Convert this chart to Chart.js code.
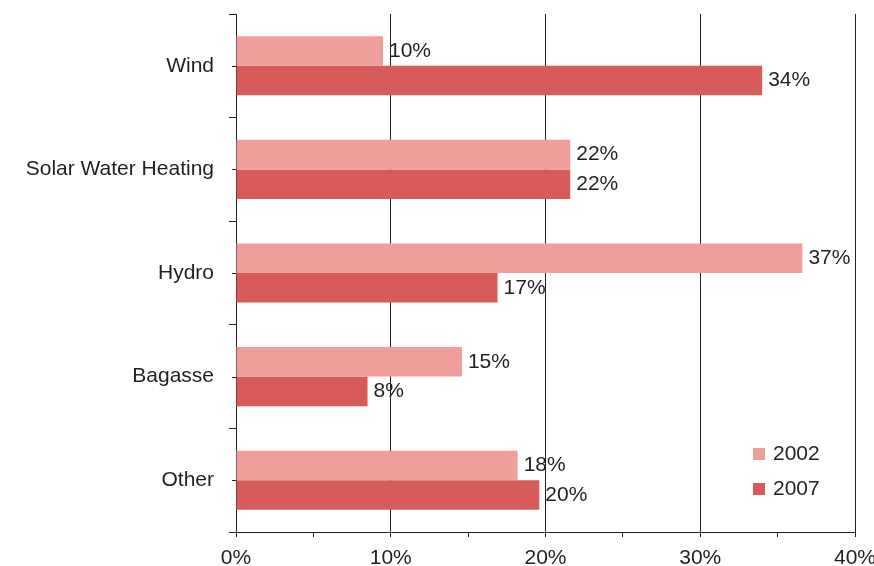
<!DOCTYPE html>
<html>
<head>
<meta charset="utf-8">
<script src="https://cdn.jsdelivr.net/npm/chart.js@4/dist/chart.umd.min.js"></script>
<style>
html,body{margin:0;padding:0;background:#fff;}
#wrap{width:874px;height:566px;position:relative;}
</style>
</head>
<body>
<div id="wrap"><canvas id="c" width="874" height="566"></canvas></div>
<script>
const categories = ["Wind", "Solar Water Heating", "Hydro", "Bagasse", "Other"];
const seriesNames = ["2002", "2007"];
const values2002 = [9.5, 21.6, 36.6, 14.6, 18.2];
const values2007 = [34.0, 21.6, 16.9, 8.5, 19.6];
const labels2002 = ["10%", "22%", "37%", "15%", "18%"];
const labels2007 = ["34%", "22%", "17%", "8%", "20%"];
const xTicks = [0, 10, 20, 30, 40];

const COL_2002 = "#EF9E9B";
const COL_2007 = "#D75B58";
const INK = "#231F20";
const FONT = "Liberation Sans, Arial, sans-serif";
const FS = 21;

const dataLabels = {
  id: "dataLabels",
  afterDatasetsDraw(chart) {
    const ctx = chart.ctx;
    ctx.save();
    ctx.font = FS + "px " + FONT;
    ctx.fillStyle = INK;
    ctx.textBaseline = "middle";
    ctx.textAlign = "left";
    const lbls = [labels2002, labels2007];
    chart.data.datasets.forEach((ds, di) => {
      chart.getDatasetMeta(di).data.forEach((bar, i) => {
        ctx.fillText(lbls[di][i], bar.x + 6, bar.y);
      });
    });
    ctx.restore();
  }
};

const extras = {
  id: "extras",
  afterDraw(chart) {
    const ctx = chart.ctx;
    const ca = chart.chartArea;
    const ys = chart.scales.y;
    ctx.save();
    ctx.strokeStyle = INK;
    ctx.lineWidth = 1;
    categories.forEach((c, i) => {
      const y = Math.round(ys.getPixelForValue(i)) + 0.5;
      ctx.beginPath();
      ctx.moveTo(ca.left - 4, y);
      ctx.lineTo(ca.left, y);
      ctx.stroke();
    });
    ctx.font = FS + "px " + FONT;
    ctx.textBaseline = "middle";
    ctx.textAlign = "left";
    const items = [[seriesNames[0], COL_2002, 454], [seriesNames[1], COL_2007, 489]];
    items.forEach(([t, col, y]) => {
      ctx.fillStyle = col;
      ctx.fillRect(753, y - 6, 12, 12);
      ctx.fillStyle = INK;
      ctx.fillText(t, 773, y);
    });
    ctx.restore();
  }
};

new Chart(document.getElementById("c"), {
  type: "bar",
  data: {
    labels: categories,
    datasets: [
      { label: seriesNames[0], data: values2002, backgroundColor: COL_2002, barPercentage: 1.0, categoryPercentage: 0.57 },
      { label: seriesNames[1], data: values2007, backgroundColor: COL_2007, barPercentage: 1.0, categoryPercentage: 0.57 }
    ]
  },
  options: {
    indexAxis: "y",
    responsive: false,
    animation: false,
    devicePixelRatio: 1,
    layout: { padding: { top: 14, left: 0, right: 19, bottom: 0 } },
    plugins: { legend: { display: false }, tooltip: { enabled: false } },
    scales: {
      x: {
        min: 0, max: 40,
        afterBuildTicks(scale) { scale.ticks = [0,5,10,15,20,25,30,35,40].map(v => ({ value: v })); },
        afterFit(scale) { scale.height = 34; scale.paddingLeft = 0; scale.paddingRight = 0; },
        border: { display: true, color: INK, width: 1 },
        grid: {
          color: (c) => (c.tick && c.tick.value % 10 === 0 && c.tick.value !== 0) ? INK : "rgba(0,0,0,0)",
          tickColor: INK,
          tickLength: 5,
          lineWidth: 1
        },
        ticks: {
          color: INK,
          font: { family: FONT, size: FS },
          padding: 9,
          maxRotation: 0,
          autoSkip: false,
          callback: (v) => xTicks.includes(v) ? v + "%" : ""
        }
      },
      y: {
        afterFit(scale) { scale.width = 236; scale.paddingTop = 0; scale.paddingBottom = 0; },
        border: { display: true, color: INK, width: 1 },
        grid: {
          drawOnChartArea: false,
          offset: true,
          tickColor: INK,
          tickLength: 7
        },
        ticks: {
          color: INK,
          font: { family: FONT, size: FS },
          padding: 15
        }
      }
    }
  },
  plugins: [dataLabels, extras]
});
</script>
</body>
</html>
